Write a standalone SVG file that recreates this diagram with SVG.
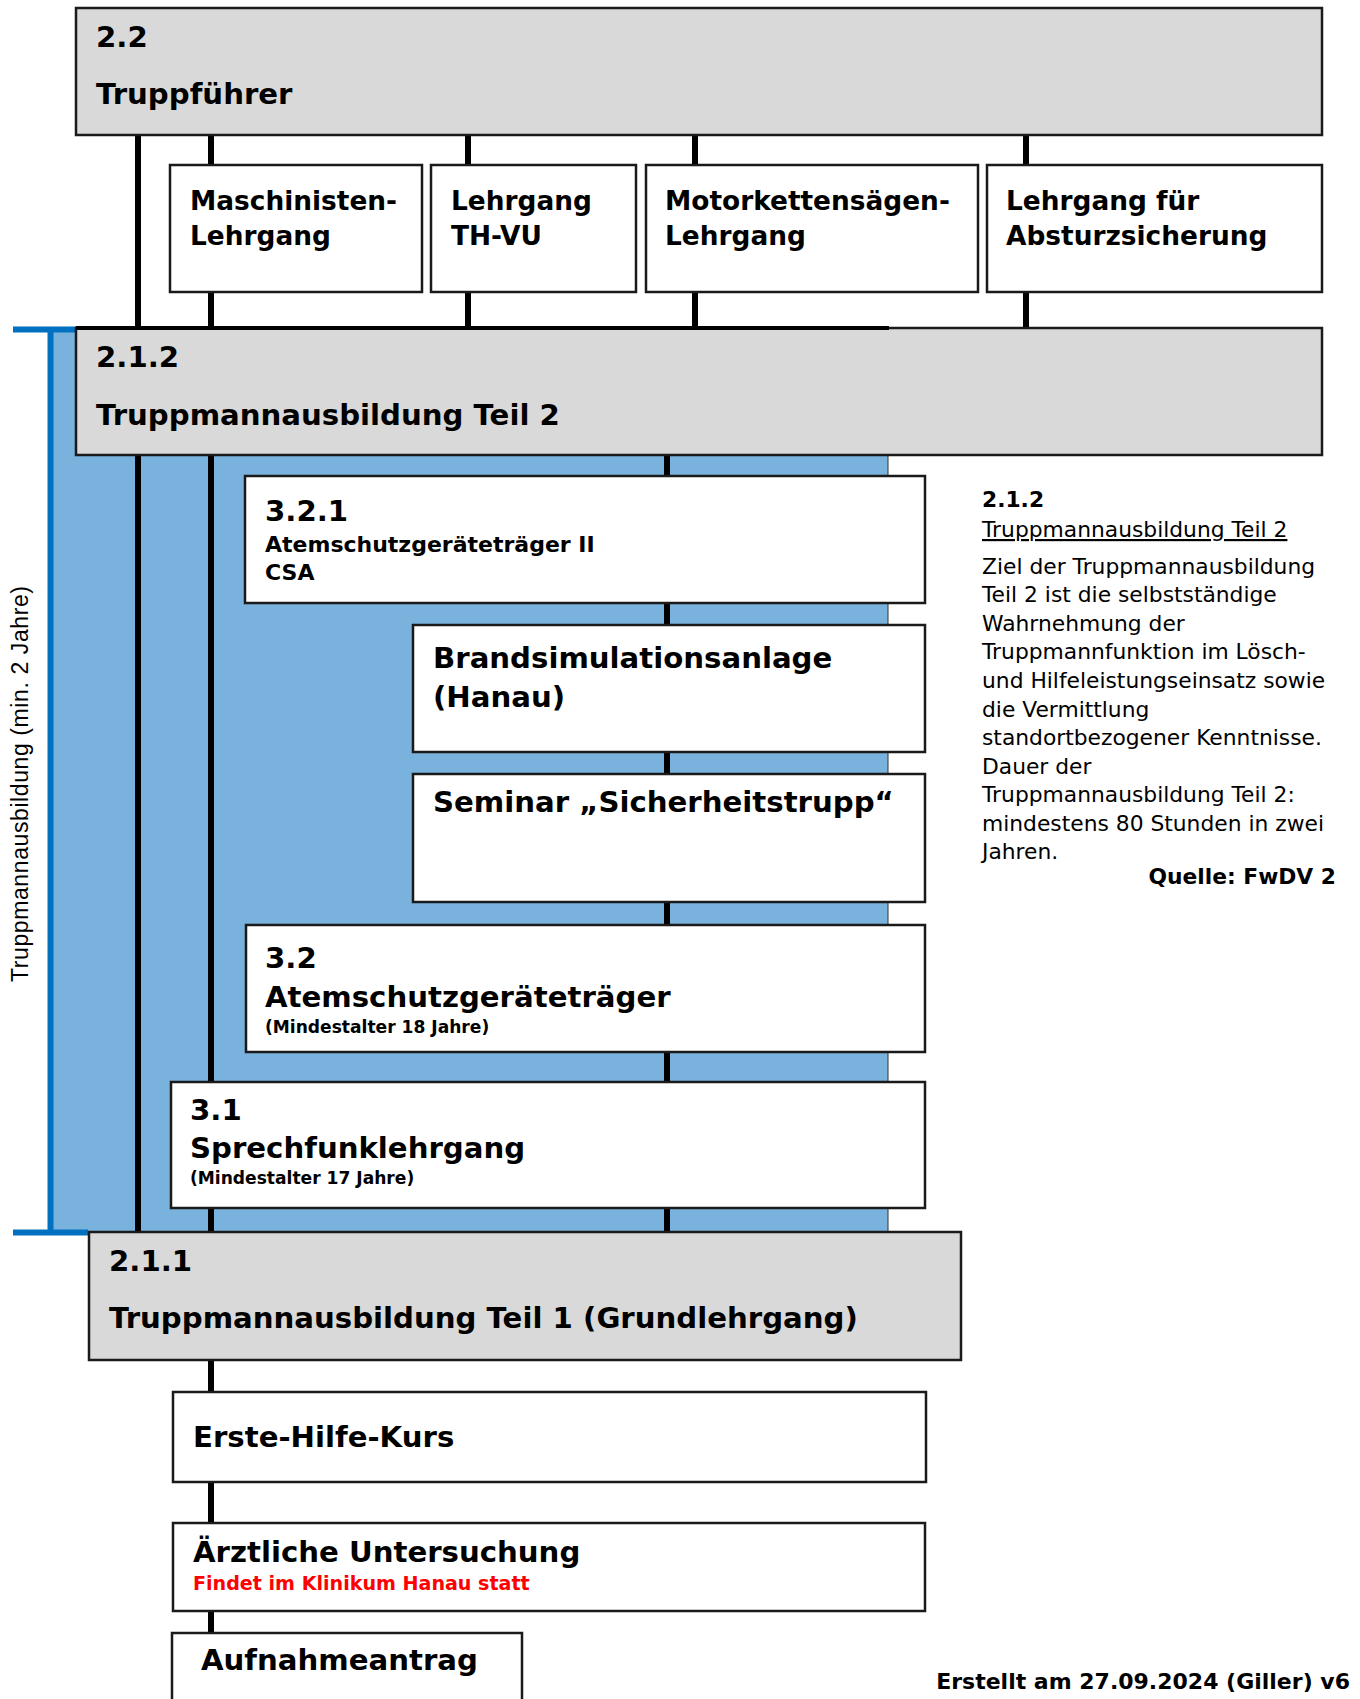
<svg xmlns="http://www.w3.org/2000/svg" width="1360" height="1699" viewBox="0 0 1360 1699">
<style>
.gray{fill:#d9d9d9;stroke:#1a1a1a;stroke-width:2.5}
.white{fill:#ffffff;stroke:#1a1a1a;stroke-width:2.5}
.con{stroke:#000;stroke-width:6;fill:none}
.b{font-family:"DejaVu Sans",Verdana,sans-serif;font-weight:bold;fill:#000}
.h{font-size:29.2px}
.m{font-size:26.4px}
.s{font-size:22px}
.xs{font-size:17.1px}
.r{font-family:"DejaVu Sans",Verdana,sans-serif;font-size:21.8px;fill:#000}
</style>
<rect x="0" y="0" width="1360" height="1699" fill="#ffffff"/>
<g id="bracket">
<rect x="50" y="328" width="838" height="905" fill="#79b2dc" stroke="#333" stroke-width="1"/>
<path d="M13,329.5 H76 M50.5,327 V1233 M13,1232.5 H88" stroke="#0070c0" stroke-width="6" fill="none"/>
<text transform="translate(28,784) rotate(-90)" text-anchor="middle" font-family="'Liberation Sans',Arial,sans-serif" font-size="23" textLength="396" fill="#000">Truppmannausbildung (min. 2 Jahre)</text>
</g>
<g id="connectors">
<line class="con" x1="138" y1="135" x2="138" y2="1233"/>
<line class="con" x1="211" y1="135" x2="211" y2="1640"/>
<line class="con" x1="468" y1="135" x2="468" y2="328"/>
<line class="con" x1="695" y1="135" x2="695" y2="328"/>
<line class="con" x1="1026" y1="135" x2="1026" y2="328"/>
<line class="con" x1="667" y1="455" x2="667" y2="1233"/>
<line x1="76" y1="328" x2="889" y2="328" stroke="#000" stroke-width="4"/>
</g>
<g id="n22">
<rect class="gray" x="76" y="8" width="1246" height="127"/>
<text class="b h" x="96" y="47">2.2</text>
<text class="b h" x="96" y="104">Truppführer</text>
</g>
<g id="maschinisten">
<rect class="white" x="170" y="165" width="252" height="127"/>
<text class="b m" x="190" y="210">Maschinisten-</text>
<text class="b m" x="190" y="245">Lehrgang</text>
</g>
<g id="thvu">
<rect class="white" x="431" y="165" width="205" height="127"/>
<text class="b m" x="451" y="210">Lehrgang</text>
<text class="b m" x="451" y="245">TH-VU</text>
</g>
<g id="motorkette">
<rect class="white" x="646" y="165" width="332" height="127"/>
<text class="b m" x="665" y="210">Motorkettensägen-</text>
<text class="b m" x="665" y="245">Lehrgang</text>
</g>
<g id="absturz">
<rect class="white" x="987" y="165" width="335" height="127"/>
<text class="b m" x="1006" y="210">Lehrgang für</text>
<text class="b m" x="1006" y="245">Absturzsicherung</text>
</g>
<g id="n212">
<rect class="gray" x="76" y="328" width="1246" height="127"/>
<line x1="76" y1="328" x2="889" y2="328" stroke="#000" stroke-width="4"/>
<text class="b h" x="96" y="367">2.1.2</text>
<text class="b h" x="96" y="425">Truppmannausbildung Teil 2</text>
</g>
<g id="n321">
<rect class="white" x="245" y="476" width="680" height="127"/>
<text class="b h" x="265" y="521">3.2.1</text>
<text class="b s" x="265" y="552">Atemschutzgeräteträger II</text>
<text class="b s" x="265" y="580">CSA</text>
</g>
<g id="brand">
<rect class="white" x="413" y="625" width="512" height="127"/>
<text class="b h" x="433" y="668">Brandsimulationsanlage</text>
<text class="b h" x="433" y="707">(Hanau)</text>
</g>
<g id="seminar">
<rect class="white" x="413" y="774" width="512" height="128"/>
<text class="b h" x="433" y="812">Seminar „Sicherheitstrupp“</text>
</g>
<g id="n32">
<rect class="white" x="246" y="925" width="679" height="127"/>
<text class="b h" x="265" y="968">3.2</text>
<text class="b h" x="265" y="1007">Atemschutzgeräteträger</text>
<text class="b xs" x="265" y="1033">(Mindestalter 18 Jahre)</text>
</g>
<g id="n31">
<rect class="white" x="171" y="1082" width="754" height="126"/>
<text class="b h" x="190" y="1120">3.1</text>
<text class="b h" x="190" y="1158">Sprechfunklehrgang</text>
<text class="b xs" x="190" y="1184">(Mindestalter 17 Jahre)</text>
</g>
<g id="n211">
<rect class="gray" x="89" y="1232" width="872" height="128"/>
<text class="b h" x="109" y="1271">2.1.1</text>
<text class="b h" x="109" y="1328">Truppmannausbildung Teil 1 (Grundlehrgang)</text>
</g>
<g id="erstehilfe">
<rect class="white" x="173" y="1392" width="753" height="90"/>
<text class="b h" x="193" y="1447">Erste-Hilfe-Kurs</text>
</g>
<g id="aerztlich">
<rect class="white" x="173" y="1523" width="752" height="88"/>
<text class="b h" x="193" y="1562">Ärztliche Untersuchung</text>
<text class="b" x="193" y="1590" font-size="19.1" style="fill:#ff0000">Findet im Klinikum Hanau statt</text>
</g>
<g id="aufnahme">
<path d="M172,1705 V1633 H522 V1705" class="white"/>
<text class="b h" x="201" y="1670">Aufnahmeantrag</text>
</g>
<g id="info">
<text class="b" x="982" y="507" font-size="21.8">2.1.2</text>
<text class="r" x="982" y="537" text-decoration="underline">Truppmannausbildung Teil 2</text>
<text class="r" x="982" y="574">Ziel der Truppmannausbildung</text>
<text class="r" x="982" y="602">Teil 2 ist die selbstständige</text>
<text class="r" x="982" y="631">Wahrnehmung der</text>
<text class="r" x="982" y="659">Truppmannfunktion im Lösch-</text>
<text class="r" x="982" y="688">und Hilfeleistungseinsatz sowie</text>
<text class="r" x="982" y="717">die Vermittlung</text>
<text class="r" x="982" y="745">standortbezogener Kenntnisse.</text>
<text class="r" x="982" y="774">Dauer der</text>
<text class="r" x="982" y="802">Truppmannausbildung Teil 2:</text>
<text class="r" x="982" y="831">mindestens 80 Stunden in zwei</text>
<text class="r" x="982" y="859">Jahren.</text>
<text class="b" x="1336" y="884" font-size="21.8" text-anchor="end">Quelle: FwDV 2</text>
</g>
<g id="footer">
<text class="b" x="1350" y="1689" font-size="22" text-anchor="end">Erstellt am 27.09.2024 (Giller) v6</text>
</g>
</svg>
